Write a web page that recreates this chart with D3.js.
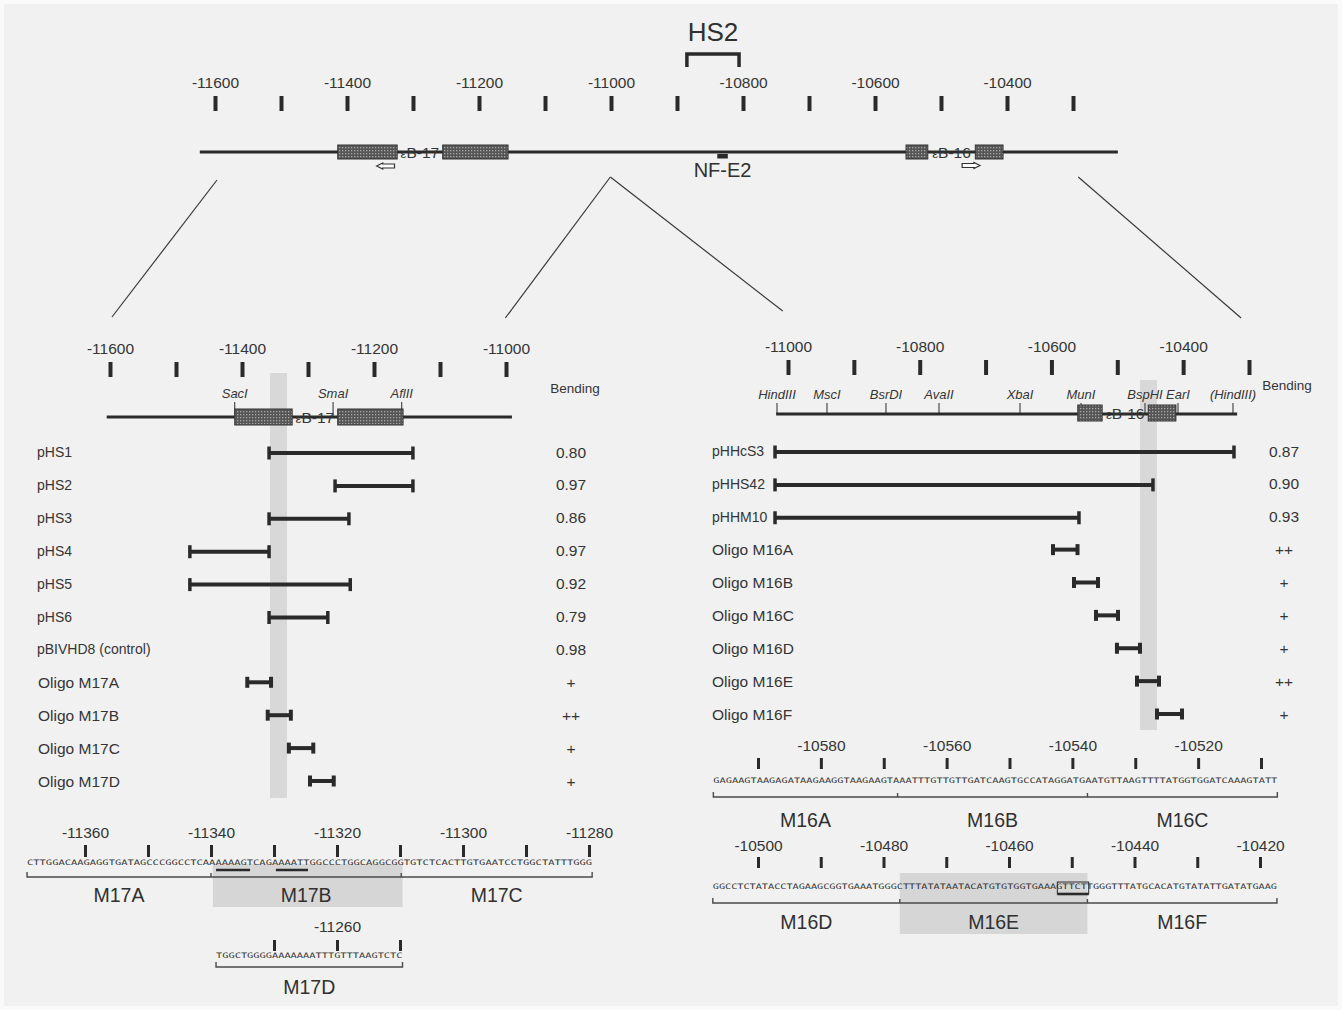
<!DOCTYPE html>
<html>
<head>
<meta charset="utf-8">
<script src="https://cdn.jsdelivr.net/npm/d3@7"></script>
<style>
  html, body { margin: 0; padding: 0; background: #fafafa; }
  svg { display: block; }
</style>
</head>
<body>
<svg id="fig" width="1342" height="1010"></svg>
<script>
// ---------------- data ----------------
// Overview map of the HS2 region (coordinates in bp)
const overviewTicks = d3.range(-11600, -10299, 100);
const overviewLabels = [-11600, -11400, -11200, -11000, -10800, -10600, -10400];
const overviewSpan = [-11623, -10232];
const e17Boxes = [[-11414, -11324], [-11255, -11156]];
const e16Boxes = [[-10553, -10520], [-10448, -10406]];
const e17Arrow = [-11355, -11328];
const e16Arrow = [-10468, -10441];
const hs2Span = [-10885, -10806];
const nfe2Span = [-10839, -10823];

// Expansion lines: overview position -> panel position
const fanTop = [-11597, -11001, -11001, -10292];
const fanBottom = [-11597, -11001, -11008, -10312];

// Left panel (κB-17 region)
const leftTicks = d3.range(-11600, -10999, 100);
const leftLabels = [-11600, -11400, -11200, -11000];
const leftSpan = [-11605, -10991];
const leftBoxes = [[-11411, -11324], [-11255, -11156]];
const leftSites = ["SacI", "SmaI", "AflII"];
const leftSitePos = [-11411, -11262, -11158];
const leftBand = [-11357.6, -11331.8];
const leftRows = ["pHS1", "pHS2", "pHS3", "pHS4", "pHS5", "pHS6", "pBIVHD8 (control)",
                  "Oligo M17A", "Oligo M17B", "Oligo M17C", "Oligo M17D"];
const leftStart = [-11359, -11259, -11359, -11479, -11479, -11359, null, -11392, -11361, -11329, -11297];
const leftEnd   = [-11141, -11141, -11238, -11359, -11236, -11270, null, -11356, -11326, -11292, -11261];
const leftBending = ["0.80", "0.97", "0.86", "0.97", "0.92", "0.79", "0.98", "+", "++", "+", "+"];

// Right panel (κB-16 region)
const rightTicks = d3.range(-11000, -10299, 100);
const rightLabels = [-11000, -10800, -10600, -10400];
const rightSpan = [-11018, -10318];
const rightBoxes = [[-10560, -10523], [-10453, -10411]];
const rightSites = ["HindIII", "MscI", "BsrDI", "AvaII", "XbaI", "MunI", "BspHI", "EarI", "(HindIII)"];
const rightSitePos = [-11016.7, -10940.8, -10851.2, -10770.7, -10647.7, -10555.1, -10457.9, -10407.8, -10324.3];
const rightBand = [-10465.5, -10439.7];
const rightRows = ["pHHcS3", "pHHS42", "pHHM10", "Oligo M16A", "Oligo M16B",
                   "Oligo M16C", "Oligo M16D", "Oligo M16E", "Oligo M16F"];
const rightStart = [-11019.7, -11019.7, -11019.7, -10597.6, -10565.7, -10532.3, -10500.5, -10470.1, -10439.7];
const rightEnd   = [-10322.8, -10445.8, -10558.2, -10560.4, -10529.3, -10498.9, -10465.5, -10436.7, -10401.7];
const rightBending = ["0.87", "0.90", "0.93", "++", "+", "+", "+", "++", "+"];

// Oligonucleotide sequences
const m17Ticks = d3.range(-11360, -11279, 10);
const m17Labels = [-11360, -11340, -11320, -11300, -11280];
const m17Span = [-11369.2, -11279.5];
const m17Dividers = [-11340, -11309.8];
const m17Names = ["M17A", "M17B", "M17C"];
const m17Shade = [-11339.7, -11309.6];
const m17Underlines = [[-11339.2, -11333.8], [-11329.7, -11324.6]];
const m17Seq = "CTTGGACAAGAGGTGATAGCCCGGCCTCAAAAAAGTCAGAAAATTGGCCCTGGCAGGCGGTGTCTCACTTGTGAATCCTGGCTATTTGGG";

const m17dTicks = [-11270, -11260, -11250];
const m17dLabels = [-11260];
const m17dSpan = [-11279.2, -11249.6];
const m17dSeq = "TGGCTGGGGAAAAAAATTTGTTTAAGTCTC";

const m16aTicks = d3.range(-10590, -10509, 10);
const m16aLabels = [-10580, -10560, -10540, -10520];
const m16aSpan = [-10597.1, -10507.4];
const m16aDividers = [-10567.8, -10537.6];
const m16aNames = ["M16A", "M16B", "M16C"];
const m16aSeq = "GAGAAGTAAGAGATAAGAAGGTAAGAAGTAAATTTGTTGTTGATCAAGTGCCATAGGATGAATGTTAAGTTTTATGGTGGATCAAAGTATT";

const m16dTicks = d3.range(-10500, -10419, 10);
const m16dLabels = [-10500, -10480, -10460, -10440, -10420];
const m16dSpan = [-10507.2, -10417.3];
const m16dDividers = [-10477.4, -10447.5];
const m16dNames = ["M16D", "M16E", "M16F"];
const m16dShade = [-10477.4, -10447.5];
const m16dBoxed = [-10452.3, -10447.3];
const m16dSeq = "GGCCTCTATACCTAGAAGCGGTGAAATGGGCTTTATATAATACATGTGTGGTGAAAGTTCTTGGGTTTATGCACATGTATATTGATATGAAG";

// ---------------- drawing ----------------
const FONT = '"Liberation Sans", Arial, Helvetica, sans-serif';
const INK = "#2a2a2a";
const TXT = "#353535";
const svg = d3.select("#fig");

const defs = svg.append("defs");
const pat = defs.append("pattern").attr("id", "stipple")
  .attr("width", 3).attr("height", 3).attr("patternUnits", "userSpaceOnUse");
pat.append("rect").attr("width", 3).attr("height", 3).attr("fill", "#555");
pat.append("rect").attr("width", 1.3).attr("height", 1.3).attr("fill", "#a9a9a9");

svg.append("rect").attr("x", 4).attr("y", 4).attr("width", 1334).attr("height", 1002).attr("fill", "#f1f1f1");

const xTop = d3.scaleLinear().domain([-11600, -10300]).range([215, 1073]);
const xLeft = d3.scaleLinear().domain([-11600, -11000]).range([110, 506]);
const xRight = d3.scaleLinear().domain([-11000, -10300]).range([788, 1249]);
const xM17 = d3.scaleLinear().domain([-11360, -11280]).range([85, 589]);
const xM17d = d3.scaleLinear().domain([-11300, -11220]).range([85, 589]);
const xM16a = d3.scaleLinear().domain([-10590, -10510]).range([758, 1261]);
const xM16d = d3.scaleLinear().domain([-10500, -10420]).range([758, 1260]);

function label(x, y, str, size, opts = {}) {
  return svg.append("text").attr("x", x).attr("y", y)
    .attr("text-anchor", opts.anchor || "middle")
    .attr("font-family", FONT).attr("font-size", size)
    .attr("font-style", opts.italic ? "italic" : null)
    .attr("fill", opts.fill || TXT).text(str);
}

// Coordinate ruler: thick tick bars with labels above every other tick
function ruler(scale, values, labels, yBase, len, width, fs, pad) {
  const axis = d3.axisTop(scale).tickValues(values).tickSize(len).tickPadding(pad)
    .tickFormat(d => labels.includes(d) ? String(d) : "");
  const g = svg.append("g").attr("transform", `translate(0,${yBase})`).call(axis);
  g.select(".domain").remove();
  g.selectAll(".tick line").attr("stroke", INK).attr("stroke-width", width);
  g.selectAll(".tick text").attr("fill", TXT)
    .style("font-family", FONT).style("font-size", fs + "px");
  return g;
}

function hline(x0, x1, y, w, color = INK) {
  svg.append("line").attr("x1", x0).attr("x2", x1).attr("y1", y).attr("y2", y)
    .attr("stroke", color).attr("stroke-width", w);
}
function vline(x, y0, y1, w, color = INK) {
  svg.append("line").attr("x1", x).attr("x2", x).attr("y1", y0).attr("y2", y1)
    .attr("stroke", color).attr("stroke-width", w);
}

function geneBoxes(scale, boxes, y, h, name, fs) {
  svg.append("g").selectAll("rect").data(boxes).join("rect")
    .attr("x", d => scale(d[0])).attr("width", d => scale(d[1]) - scale(d[0]))
    .attr("y", y - h / 2).attr("height", h)
    .attr("fill", "url(#stipple)").attr("stroke", "#333").attr("stroke-width", 1);
  const cx = (scale(boxes[0][1]) + scale(boxes[1][0])) / 2;
  const t = svg.append("text").attr("x", cx).attr("y", y + fs * 0.36)
    .attr("text-anchor", "middle").attr("font-family", FONT).attr("font-size", fs).attr("fill", TXT);
  t.append("tspan").attr("font-size", fs * 0.85).text("ε");
  t.append("tspan").text(name);
}

function interval(x0, x1, y, capH, capW, sw) {
  hline(x0, x1, y, sw);
  vline(x0, y - capH / 2, y + capH / 2, capW);
  vline(x1, y - capH / 2, y + capH / 2, capW);
}

function arrow(x0, x1, y, dir) {
  const h = 6, head = 6;
  let p;
  if (dir < 0) {
    p = `M${x0},${y} L${x0 + head},${y - h / 2} L${x0 + head},${y - 2} L${x1},${y - 2} L${x1},${y + 2} L${x0 + head},${y + 2} L${x0 + head},${y + h / 2} Z`;
  } else {
    p = `M${x1},${y} L${x1 - head},${y - h / 2} L${x1 - head},${y - 2} L${x0},${y - 2} L${x0},${y + 2} L${x1 - head},${y + 2} L${x1 - head},${y + h / 2} Z`;
  }
  svg.append("path").attr("d", p).attr("fill", "#fbfbfb").attr("stroke", "#333").attr("stroke-width", 1.2);
}

// ---- overview ----
label((xTop(hs2Span[0]) + xTop(hs2Span[1])) / 2, 41, "HS2", 26, { fill: "#303030" });
svg.append("path")
  .attr("d", `M${xTop(hs2Span[0])},67 L${xTop(hs2Span[0])},54 L${xTop(hs2Span[1])},54 L${xTop(hs2Span[1])},67`)
  .attr("fill", "none").attr("stroke", INK).attr("stroke-width", 3.5);
ruler(xTop, overviewTicks, overviewLabels, 111, 15, 4, 15.5, 8);
hline(xTop(overviewSpan[0]), xTop(overviewSpan[1]), 152, 3.2);
geneBoxes(xTop, e17Boxes, 152, 14, "B-17", 15.5);
geneBoxes(xTop, e16Boxes, 152, 14, "B-16", 15.5);
arrow(xTop(e17Arrow[0]), xTop(e17Arrow[1]), 166, -1);
arrow(xTop(e16Arrow[0]), xTop(e16Arrow[1]), 165.5, 1);
svg.append("rect").attr("x", xTop(nfe2Span[0])).attr("width", xTop(nfe2Span[1]) - xTop(nfe2Span[0]))
  .attr("y", 154).attr("height", 4.5).attr("fill", INK);
label((xTop(nfe2Span[0]) + xTop(nfe2Span[1])) / 2, 177, "NF-E2", 20, { fill: "#303030" });

// expansion lines
const fanPanels = [xLeft, xLeft, xRight, xRight];
const fanY = [[180, 317], [177, 318], [177, 311], [177, 318]];
fanTop.forEach((v, i) => {
  svg.append("line")
    .attr("x1", xTop(v)).attr("y1", fanY[i][0])
    .attr("x2", fanPanels[i](fanBottom[i])).attr("y2", fanY[i][1])
    .attr("stroke", "#3a3a3a").attr("stroke-width", 1.2);
});

// ---- left panel ----
svg.append("rect").attr("x", xLeft(leftBand[0])).attr("width", xLeft(leftBand[1]) - xLeft(leftBand[0]))
  .attr("y", 373).attr("height", 425).attr("fill", "#d8d8d8");
ruler(xLeft, leftTicks, leftLabels, 377, 15, 4, 15.5, 8);
label(575, 393, "Bending", 13.5);
leftSites.forEach((s, i) => {
  label(xLeft(leftSitePos[i]), 398, s, 13, { italic: true });
  vline(xLeft(leftSitePos[i]), 402, 417, 1);
});
hline(xLeft(leftSpan[0]), xLeft(leftSpan[1]), 417, 3.2);
geneBoxes(xLeft, leftBoxes, 417, 16, "B-17", 15.5);

const yLeft = d3.scalePoint().domain(leftRows).range([452, 781]);
leftRows.forEach((r, i) => {
  const y = yLeft(r);
  const oligo = r.startsWith("Oligo");
  label(oligo ? 38 : 37, y + (oligo ? 5.5 : 5), r, oligo ? 15.5 : 14, { anchor: "start" });
  if (leftStart[i] !== null) {
    if (oligo) interval(xLeft(leftStart[i]), xLeft(leftEnd[i]), y, 11, 4, 4);
    else interval(xLeft(leftStart[i]), xLeft(leftEnd[i]), y + 1, 13, 3.5, 4);
  }
  label(571, y + 5.5, leftBending[i], 15.5);
});

// ---- right panel ----
svg.append("rect").attr("x", xRight(rightBand[0])).attr("width", xRight(rightBand[1]) - xRight(rightBand[0]))
  .attr("y", 380).attr("height", 350).attr("fill", "#d8d8d8");
ruler(xRight, rightTicks, rightLabels, 375, 15, 4, 15.5, 8);
label(1287, 390, "Bending", 13.5);
rightSites.forEach((s, i) => {
  label(xRight(rightSitePos[i]), 399, s, 13, { italic: true });
  vline(xRight(rightSitePos[i]), 403, 414, 1);
});
hline(xRight(rightSpan[0]), xRight(rightSpan[1]), 414, 3.2);
geneBoxes(xRight, rightBoxes, 413, 16, "B-16", 15.5);

const yRight = d3.scalePoint().domain(rightRows).range([451, 714]);
rightRows.forEach((r, i) => {
  const y = yRight(r);
  const oligo = r.startsWith("Oligo");
  label(712, y + (oligo ? 5.5 : 5), r, oligo ? 15.5 : 14, { anchor: "start" });
  if (oligo) interval(xRight(rightStart[i]), xRight(rightEnd[i]), y, 11, 4, 4);
  else interval(xRight(rightStart[i]), xRight(rightEnd[i]), y + 1, 13, 3.5, 4);
  label(1284, y + 5.5, rightBending[i], 15.5);
});

// ---- sequence blocks ----
function seqBlock(cfg) {
  const s = cfg.scale;
  if (cfg.shade) {
    svg.append("rect").attr("x", s(cfg.shade[0])).attr("width", s(cfg.shade[1]) - s(cfg.shade[0]))
      .attr("y", cfg.shadeY[0]).attr("height", cfg.shadeY[1] - cfg.shadeY[0]).attr("fill", "#d6d6d6");
  }
  ruler(s, cfg.ticks, cfg.labels, cfg.tickY, cfg.tickLen, 3, 15.5, cfg.pad);
  const x0 = s(cfg.span[0]), x1 = s(cfg.span[1]);
  svg.append("text").attr("x", x0).attr("y", cfg.seqY)
    .attr("font-family", '"DejaVu Sans Mono", monospace').attr("font-size", 7.5)
    .attr("fill", "#333").attr("textLength", x1 - x0).attr("lengthAdjust", "spacingAndGlyphs")
    .text(cfg.seq);
  // bracket under the sequence
  const by = cfg.bracketY;
  svg.append("path").attr("d", `M${x0},${by - 5} L${x0},${by} L${x1},${by} L${x1},${by - 5}`)
    .attr("fill", "none").attr("stroke", "#4a4a4a").attr("stroke-width", 1.4);
  (cfg.dividers || []).forEach(d => vline(s(d), by - 4, by, 1.4, "#4a4a4a"));
  (cfg.underlines || []).forEach(u => hline(s(u[0]), s(u[1]), cfg.seqY + 5, 2.6));
  if (cfg.boxed) {
    svg.append("rect").attr("x", s(cfg.boxed[0])).attr("width", s(cfg.boxed[1]) - s(cfg.boxed[0]))
      .attr("y", cfg.seqY - 7).attr("height", 12).attr("fill", "none").attr("stroke", INK).attr("stroke-width", 1);
    hline(s(cfg.boxed[0]), s(cfg.boxed[1]), cfg.seqY + 5, 2.6);
  }
  if (cfg.names) {
    const edges = [cfg.span[0], ...cfg.dividers, cfg.span[1]];
    cfg.names.forEach((n, i) => {
      label((s(edges[i]) + s(edges[i + 1])) / 2, cfg.nameY, n, 19.5, { fill: "#303030" });
    });
  }
}

seqBlock({ scale: xM17, ticks: m17Ticks, labels: m17Labels, tickY: 857, tickLen: 12, pad: 7,
  span: m17Span, seq: m17Seq, seqY: 865, bracketY: 877, dividers: m17Dividers,
  names: m17Names, nameY: 902, shade: m17Shade, shadeY: [864, 907], underlines: m17Underlines });

seqBlock({ scale: xM17d, ticks: m17dTicks, labels: m17dLabels, tickY: 951, tickLen: 11, pad: 8,
  span: m17dSpan, seq: m17dSeq, seqY: 958, bracketY: 967, dividers: [] });
label((xM17d(m17dSpan[0]) + xM17d(m17dSpan[1])) / 2, 994, "M17D", 19.5, { fill: "#303030" });

seqBlock({ scale: xM16a, ticks: m16aTicks, labels: m16aLabels, tickY: 769, tickLen: 11, pad: 7,
  span: m16aSpan, seq: m16aSeq, seqY: 783, bracketY: 797, dividers: m16aDividers,
  names: m16aNames, nameY: 827 });

seqBlock({ scale: xM16d, ticks: m16dTicks, labels: m16dLabels, tickY: 868, tickLen: 11, pad: 6,
  span: m16dSpan, seq: m16dSeq, seqY: 889, bracketY: 903, dividers: m16dDividers,
  names: m16dNames, nameY: 929, shade: m16dShade, shadeY: [873, 934], boxed: m16dBoxed });
</script>
</body>
</html>
